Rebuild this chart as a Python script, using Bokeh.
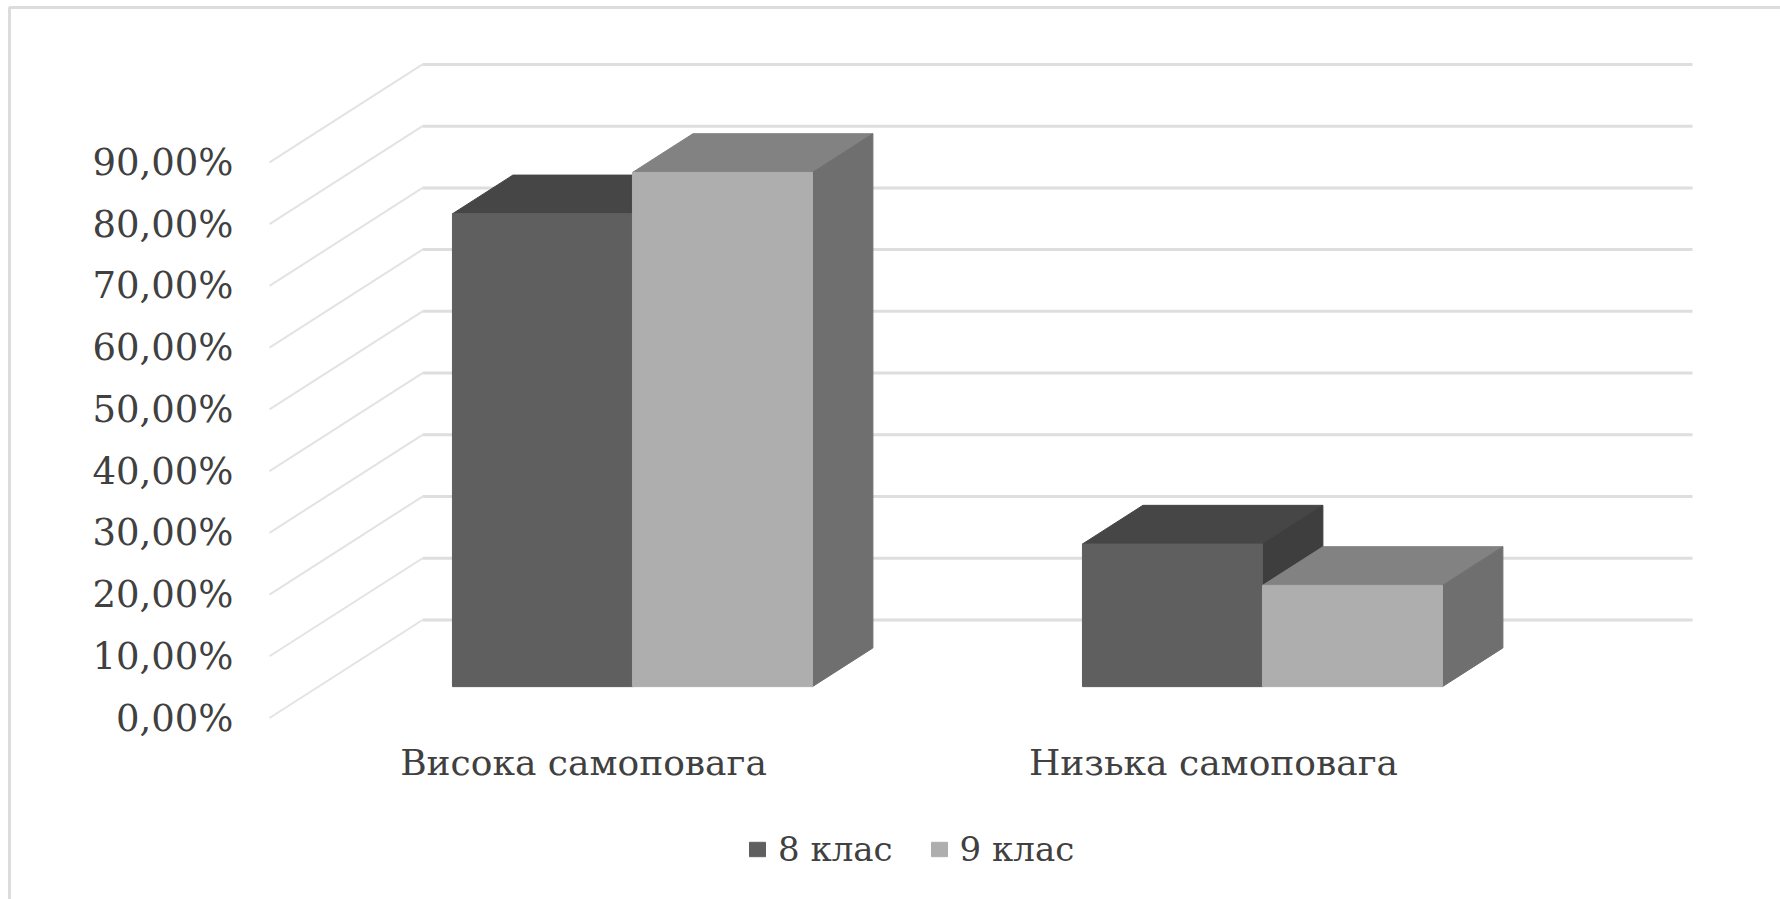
from bokeh.plotting import figure
from bokeh.models import Range1d, FixedTicker, Legend, LegendItem
from bokeh.embed import file_html
from bokeh.resources import INLINE

categories = ["Висока самоповага", "Низька самоповага"]
series_names = ["8 клас", "9 клас"]
grade_8 = [76.6, 23.1]
grade_9 = [83.3, 16.4]
y_ticks = [0, 10, 20, 30, 40, 50, 60, 70, 80, 90]
y_tick_labels = ["0,00%", "10,00%", "20,00%", "30,00%", "40,00%",
                 "50,00%", "60,00%", "70,00%", "80,00%", "90,00%"]

FONT = "DejaVu Serif"
TEXT = "#404040"
W, H = 1780, 899

# pixel layout of the page -> data scales
PX_PER_CAT = 630.0
PX_PER_PCT = 6.173
X0_PX, Y0_PX = 583.0, 717.5
def xd(px): return (px - X0_PX) / PX_PER_CAT
def yd(px): return (Y0_PX - px) / PX_PER_PCT

DEPTH_X = 153.0 / PX_PER_CAT      # floor depth, in category units
DEPTH_Y = 98.0 / PX_PER_PCT       # floor depth, in percent
BAR_W = 180.0 / PX_PER_CAT
D_FRONT, D_BACK = 0.32, 0.715      # bar front/back planes as depth fractions
GRID_END = xd(1692)

p = figure(width=W, height=H, output_backend="svg", toolbar_location=None,
           x_range=Range1d(xd(0), xd(W)), y_range=Range1d(yd(H), yd(0)),
           min_border_left=0, min_border_right=0, min_border_top=0, min_border_bottom=0,
           background_fill_color="#ffffff", border_fill_color="#ffffff")
p.outline_line_color = None
p.grid.visible = False

# chart area edge
p.line([xd(9), xd(9), xd(W)], [yd(H), yd(7), yd(7)], line_color="#dcdcdc", line_width=3)

# axes
p.yaxis.ticker = FixedTicker(ticks=y_ticks)
p.yaxis.major_label_overrides = dict(zip(y_ticks, y_tick_labels))
p.yaxis.fixed_location = xd(239)
p.xaxis.ticker = FixedTicker(ticks=list(range(len(categories))))
p.xaxis.major_label_overrides = dict(enumerate(categories))
p.xaxis.fixed_location = 0
for ax in (p.xaxis[0], p.yaxis[0]):
    ax.axis_line_color = None
    ax.major_tick_line_color = None
    ax.minor_tick_line_color = None
    ax.major_label_text_font = FONT
    ax.major_label_text_color = TEXT
p.yaxis.major_label_text_font_size = "37px"
p.xaxis.major_label_text_font_size = "36px"
p.yaxis.major_label_standoff = 0
p.xaxis.major_label_standoff = 18

# walls: one line per tick, floor front -> back wall -> right end
dx = [xd(269), xd(269) + DEPTH_X]
for t in y_ticks:
    p.line(dx, [t, t + DEPTH_Y], line_color="#e3e3e3", line_width=2)
    p.line([dx[1], GRID_END], [t + DEPTH_Y, t + DEPTH_Y], line_color="#dedede", line_width=3)

# 3D bars
fx, fy = DEPTH_X * D_FRONT, DEPTH_Y * D_FRONT
bx, by = DEPTH_X * D_BACK, DEPTH_Y * D_BACK

def draw_series(values, lefts, c_front, c_top, c_side):
    top_x, top_y, side_x, side_y = [], [], [], []
    f_l, f_r, f_t, f_b = [], [], [], []
    for v, l in zip(values, lefts):
        r = l + BAR_W
        top = v + fy
        top_x.append([l + fx, r + fx, r + bx, l + bx])
        top_y.append([top, top, v + by, v + by])
        side_x.append([r + fx, r + bx, r + bx, r + fx])
        side_y.append([fy, by, v + by, top])
        f_l.append(l + fx); f_r.append(r + fx); f_t.append(top); f_b.append(fy)
    p.patches(top_x, top_y, fill_color=c_top, line_color=c_top, line_width=1)
    p.patches(side_x, side_y, fill_color=c_side, line_color=c_side, line_width=1)
    return p.quad(left=f_l, right=f_r, top=f_t, bottom=f_b, fill_color=c_front,
                  line_color=c_front, line_width=1)

idx = range(len(categories))
r8 = draw_series(grade_8, [i - BAR_W for i in idx], "#5f5f5f", "#464646", "#3e3e3e")
r9 = draw_series(grade_9, [float(i) for i in idx], "#aeaeae", "#828282", "#6f6f6f")

legend = Legend(items=[LegendItem(label=series_names[0], renderers=[r8]),
                       LegendItem(label=series_names[1], renderers=[r9])],
                orientation="horizontal", location=(747, 30), margin=0, padding=0,
                spacing=36, label_standoff=11, glyph_width=20, glyph_height=18,
                label_text_font=FONT, label_text_font_size="34px", label_text_color=TEXT,
                border_line_color=None, background_fill_alpha=0)
p.add_layout(legend, "center")

open("out.html", "w").write(file_html(p, INLINE))
